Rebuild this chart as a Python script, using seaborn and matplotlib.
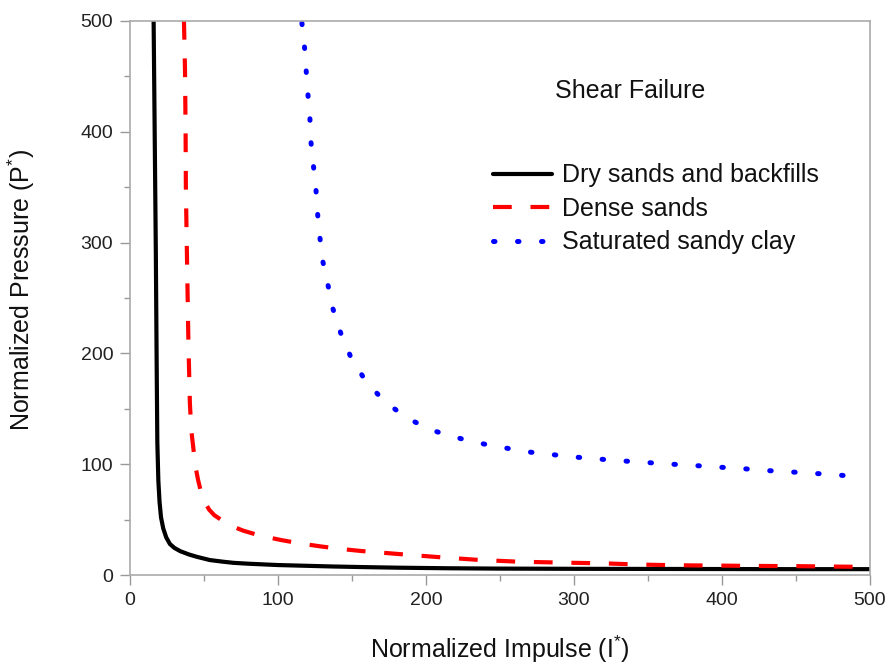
import matplotlib
matplotlib.use("Agg")
import matplotlib.pyplot as plt
import pandas as pd
import seaborn as sns
from matplotlib.ticker import MultipleLocator

# values
dry_impulse = [16.0, 16.5, 17.0, 17.5, 18.0, 18.5, 19.2, 20.0, 21.0, 22.5, 24.5,
               27.0, 30.0, 34.0, 40.0, 45.0, 54.0, 63.0, 70.0, 80.0, 90.0, 100.0,
               120.0, 137.0, 160.0, 182.0, 215.0, 248.0, 300.0, 350.0, 400.0,
               450.0, 500.0]
dry_pressure = [500.0, 430.0, 360.0, 290.0, 200.0, 120.0, 85.0, 66.0, 52.0, 42.0, 34.0,
                28.0, 24.5, 21.5, 18.5, 16.5, 13.5, 12.0, 11.0, 10.2, 9.6, 9.0,
                8.3, 7.7, 7.1, 6.6, 6.1, 5.8, 5.6, 5.5, 5.4,
                5.3, 5.3]

dense_impulse = [36.5, 37.2, 37.6, 37.8, 38.5, 39.5, 40.5, 41.5, 42.8, 44.0, 46.0,
                 48.0, 50.5, 53.5, 57.0, 62.0, 70.0, 76.6, 88.0, 102.0, 115.0,
                 129.0, 142.0, 156.0, 182.0, 210.0, 236.0, 263.0, 292.0, 321.0,
                 345.0, 370.0, 397.0, 424.0, 451.0, 478.0, 500.0]
dense_pressure = [500.0, 456.0, 401.0, 347.0, 290.0, 210.0, 155.0, 130.0, 115.0, 100.0, 86.0,
                  75.0, 66.0, 59.0, 54.0, 49.5, 43.5, 40.0, 35.5, 31.6, 28.5,
                  25.8, 23.6, 21.7, 18.9, 16.0, 13.6, 12.0, 11.2, 10.5,
                  9.4, 8.8, 8.5, 8.2, 8.0, 7.6, 7.3]

clay_impulse = [116.2, 118.0, 119.1, 120.3, 121.6, 122.3, 124.0, 125.7, 126.8, 128.4,
                130.4, 133.8, 137.2, 142.4, 149.1, 158.8, 171.6, 187.2, 203.4, 219.6,
                235.6, 251.0, 267.6, 283.1, 299.3, 315.5, 331.4, 347.3, 363.5, 379.7,
                395.7, 411.5, 427.7, 444.0, 459.5, 475.7, 495.0]
clay_pressure = [498.0, 475.6, 454.6, 433.0, 412.0, 390.8, 369.0, 347.5, 325.8, 304.0,
                 282.5, 261.7, 240.0, 218.4, 197.0, 176.0, 157.0, 141.7, 130.9, 124.4,
                 119.1, 115.3, 111.3, 109.0, 106.6, 104.8, 103.1, 101.7, 100.2, 99.0,
                 97.5, 96.3, 94.5, 93.2, 92.0, 90.5, 88.5]

series_labels = ["Dry sands and backfills", "Dense sands", "Saturated sandy clay"]

sns.set_theme(style="white")
plt.rcParams["font.family"] = ["Liberation Sans", "DejaVu Sans"]
plt.rcParams["mathtext.fontset"] = "custom"
plt.rcParams["mathtext.rm"] = "Liberation Sans"
plt.rcParams["mathtext.it"] = "Liberation Sans"

dry = pd.DataFrame({"impulse": dry_impulse, "pressure": dry_pressure})
dense = pd.DataFrame({"impulse": dense_impulse, "pressure": dense_pressure})
clay = pd.DataFrame({"impulse": clay_impulse, "pressure": clay_pressure})

fig = plt.figure(figsize=(8.9, 6.66), dpi=100)
ax = fig.add_axes([0.146, 0.1366, 0.8315, 0.832])

sns.lineplot(data=dry, x="impulse", y="pressure", ax=ax, color="black", lw=3.0,
             sort=False, estimator=None, label=series_labels[0])
sns.lineplot(data=dense, x="impulse", y="pressure", ax=ax, color="red", lw=3.0,
             sort=False, estimator=None, label=series_labels[1], dashes=False)
sns.lineplot(data=clay, x="impulse", y="pressure", ax=ax, color="blue", lw=3.6,
             sort=False, estimator=None, label=series_labels[2], dashes=False)
ax.lines[1].set_dashes((4.5, 4.5))
ax.lines[2].set_dashes((0.3, 4.5))
ax.lines[2].set_dash_capstyle("round")

ax.set_xlim(0, 500)
ax.set_ylim(0, 500)
ax.xaxis.set_major_locator(MultipleLocator(100))
ax.xaxis.set_minor_locator(MultipleLocator(50))
ax.yaxis.set_major_locator(MultipleLocator(100))
ax.yaxis.set_minor_locator(MultipleLocator(50))
ax.tick_params(which="both", direction="out", colors="#999999", labelcolor="#222222",
               bottom=True, left=True, top=False, right=False)
ax.tick_params(which="major", length=7, width=1, labelsize=14, pad=5)
ax.tick_params(which="minor", length=4, width=1)
for spine in ax.spines.values():
    spine.set_color("#aaaaaa")
    spine.set_linewidth(1.2)

ax.set_xlabel(r"Normalized Impulse (I$^{*}$)", fontsize=18, color="#111111", labelpad=18)
ax.set_ylabel(r"Normalized Pressure (P$^{*}$)", fontsize=18, color="#111111")
ax.yaxis.set_label_coords(-0.126, 0.514)

ax.text(287, 437, "Shear Failure", fontsize=18, color="#111111", va="center", ha="left")

leg = ax.legend(loc="upper left", bbox_to_anchor=(0.4905, 0.743), frameon=False,
                fontsize=18, borderaxespad=0, borderpad=0, labelspacing=0.38,
                handlelength=2.36, handletextpad=0.4, labelcolor="#111111")
leg.get_lines()[2].set_dash_capstyle("round")

fig.savefig("out.png", dpi=100)
